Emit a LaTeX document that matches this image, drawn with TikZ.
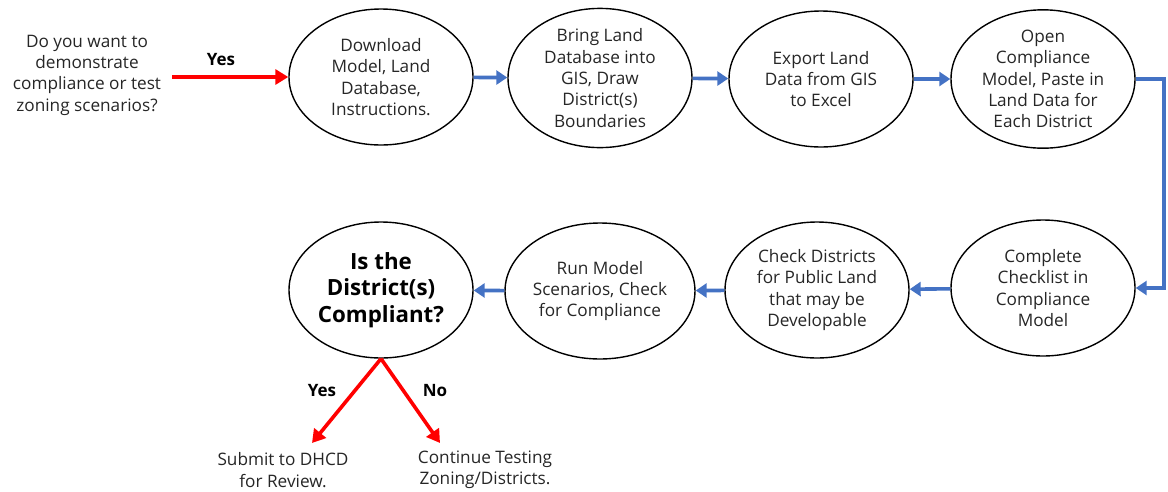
\documentclass[tikz,border=0pt]{standalone}
\usepackage{fontspec}
\setmainfont{Open Sans}
\usetikzlibrary{shapes.geometric,arrows.meta}
\definecolor{flowblue}{RGB}{68,114,196}
\definecolor{flowred}{RGB}{255,0,0}
\tikzset{
  stage/.style={ellipse, draw=black, line width=1.4pt, minimum width=184pt, minimum height=136pt,
    inner sep=0pt, align=center, font=\fontsize{17.2}{21.3}\selectfont, text=black!85},
  question/.style={stage, font=\bfseries\fontsize{22.3}{26.5}\selectfont, text=black},
  plain/.style={align=center, font=\fontsize{17.2}{21.3}\selectfont, text=black!85},
  tag/.style={font=\bfseries\fontsize{17}{20}\selectfont},
  flow/.style={draw=flowblue, line width=3.6pt, -{Triangle[length=11pt,width=14pt]}},
  branch/.style={draw=flowred, line width=3.6pt, -{Triangle[length=13pt,width=15pt]}},
}
\begin{document}
\begin{tikzpicture}[x=1pt,y=-1pt]
\useasboundingbox (0,0) rectangle (1168,491);
% start question
\node[plain] (start) at (87,75) {Do you want to\\demonstrate\\compliance or test\\zoning scenarios?};
\coordinate (startout) at (172,77);
% top row
\node[stage] (dl) at (381,77) {Download\\Model, Land\\Database,\\Instructions.};
\node[stage] (gis) at (600,78) {Bring Land\\Database into\\GIS, Draw\\District(s)\\Boundaries};
\node[stage] (exp) at (821,79) {Export Land\\Data from GIS\\to Excel};
\node[stage] (open) at (1043,79) {Open\\Compliance\\Model, Paste in\\Land Data for\\Each District};
% bottom row
\node[stage] (chk) at (1043,288) {Complete\\Checklist in\\Compliance\\Model};
\node[stage] (pub) at (817,290) {Check Districts\\for Public Land\\that may be\\Developable};
\node[stage] (run) at (600,291) {Run Model\\Scenarios, Check\\for Compliance};
\node[question] (comp) at (381,290) {Is the\\District(s)\\Compliant?};
% outcomes
\node[plain] (submit) at (283,470) {Submit to DHCD\\for Review.};
\node[plain] (cont) at (485,470) {Continue Testing\\Zoning/Districts.};
\coordinate (yesend) at (312,443);
\coordinate (noend) at (440,443);
% connectors
\draw[branch] (startout) -- (dl.west);
\node[tag] (yes0) at (221,60) {Yes};
\draw[flow] (dl) -- (gis);
\draw[flow] (gis) -- (exp);
\draw[flow] (exp) -- (open);
\draw[flow] (open.east) -- ++(28,0) |- (chk.east);
\draw[flow] (chk) -- (pub);
\draw[flow] (pub) -- (run);
\draw[flow] (run) -- (comp);
\draw[branch] (comp.south) -- (yesend);
\draw[branch] (comp.south) -- (noend);
\node[tag] (yes1) at (322,391) {Yes};
\node[tag] (no1) at (435,391) {No};
\end{tikzpicture}
\end{document}
